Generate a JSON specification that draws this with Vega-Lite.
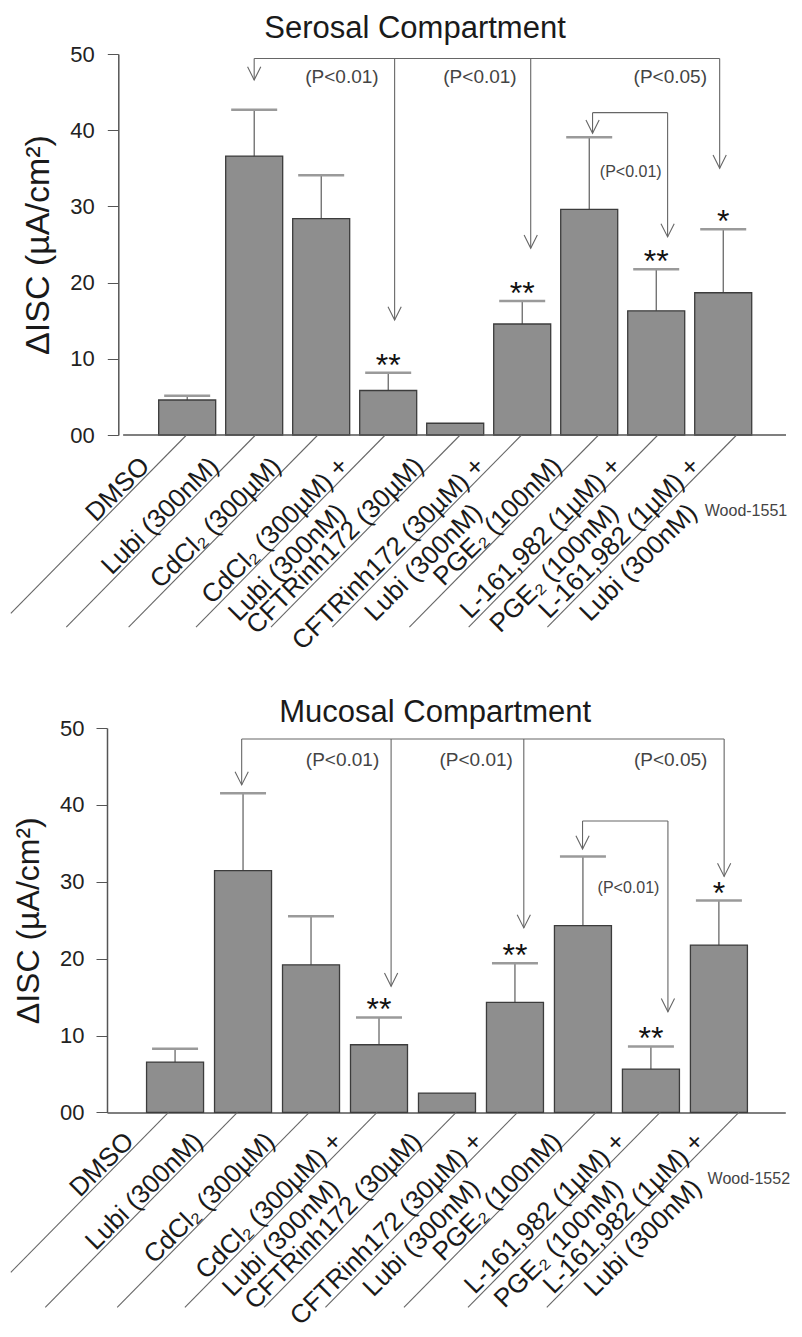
{
  "$schema": "https://vega.github.io/schema/vega-lite/v6.json",
  "background": "white",
  "padding": {"left": 10, "top": 12, "right": 0, "bottom": 0},
  "spacing": 42,
  "columns": 1,
  "align": "none",
  "config": {
    "font": "Liberation Sans",
    "view": {"stroke": null},
    "title": {"fontSize": 31, "fontWeight": "normal", "color": "#1a1a1a", "frame": "group", "anchor": "middle"}
  },
  "datasets": {
    "bars": [
      {"panel": "S", "idx": 1, "treatment": "DMSO", "mean": 4.59, "hi": 5.16, "sig": ""},
      {"panel": "S", "idx": 2, "treatment": "Lubi (300nM)", "mean": 36.6, "hi": 42.7, "sig": ""},
      {"panel": "S", "idx": 3, "treatment": "CdCl2 (300µM)", "mean": 28.4, "hi": 34.1, "sig": ""},
      {"panel": "S", "idx": 4, "treatment": "CdCl2 (300µM) + Lubi (300nM)", "mean": 5.84, "hi": 8.18, "sig": "**"},
      {"panel": "S", "idx": 5, "treatment": "CFTRinh172 (30µM)", "mean": 1.54, "hi": null, "sig": ""},
      {"panel": "S", "idx": 6, "treatment": "CFTRinh172 (30µM) + Lubi (300nM)", "mean": 14.57, "hi": 17.6, "sig": "**"},
      {"panel": "S", "idx": 7, "treatment": "PGE2 (100nM)", "mean": 29.6, "hi": 39.07, "sig": ""},
      {"panel": "S", "idx": 8, "treatment": "L-161,982 (1µM) + PGE2 (100nM)", "mean": 16.3, "hi": 21.75, "sig": "**"},
      {"panel": "S", "idx": 9, "treatment": "L-161,982 (1µM) + Lubi (300nM)", "mean": 18.67, "hi": 27.0, "sig": "*"},
      {"panel": "M", "idx": 1, "treatment": "DMSO", "mean": 6.55, "hi": 8.28, "sig": ""},
      {"panel": "M", "idx": 2, "treatment": "Lubi (300nM)", "mean": 31.45, "hi": 41.5, "sig": ""},
      {"panel": "M", "idx": 3, "treatment": "CdCl2 (300µM)", "mean": 19.2, "hi": 25.5, "sig": ""},
      {"panel": "M", "idx": 4, "treatment": "CdCl2 (300µM) + Lubi (300nM)", "mean": 8.8, "hi": 12.35, "sig": "**"},
      {"panel": "M", "idx": 5, "treatment": "CFTRinh172 (30µM)", "mean": 2.52, "hi": null, "sig": ""},
      {"panel": "M", "idx": 6, "treatment": "CFTRinh172 (30µM) + Lubi (300nM)", "mean": 14.3, "hi": 19.4, "sig": "**"},
      {"panel": "M", "idx": 7, "treatment": "PGE2 (100nM)", "mean": 24.3, "hi": 33.3, "sig": ""},
      {"panel": "M", "idx": 8, "treatment": "L-161,982 (1µM) + PGE2 (100nM)", "mean": 5.64, "hi": 8.58, "sig": "**"},
      {"panel": "M", "idx": 9, "treatment": "L-161,982 (1µM) + Lubi (300nM)", "mean": 21.77, "hi": 27.56, "sig": "*"}
    ],
    "segments": [
      {"panel": "S", "type": "bracket", "x": 2.0, "x2": 8.947, "y": 49.4, "y2": 49.4},
      {"panel": "S", "type": "stem", "x": 2.0, "x2": 2.0, "y": 49.4, "y2": 46.6},
      {"panel": "S", "type": "stem", "x": 4.096, "x2": 4.096, "y": 49.4, "y2": 15.1},
      {"panel": "S", "type": "stem", "x": 6.127, "x2": 6.127, "y": 49.4, "y2": 24.5},
      {"panel": "S", "type": "stem", "x": 8.947, "x2": 8.947, "y": 49.4, "y2": 35.0},
      {"panel": "S", "type": "bracket", "x": 7.05, "x2": 8.17, "y": 42.3, "y2": 42.3},
      {"panel": "S", "type": "stem", "x": 7.05, "x2": 7.05, "y": 42.3, "y2": 39.6},
      {"panel": "S", "type": "stem", "x": 8.17, "x2": 8.17, "y": 42.3, "y2": 26.0},
      {"panel": "S", "type": "leader", "x": 0.99, "x2": -1.632, "y": 0, "y2": -23.4, "line1": "DMSO", "line2": ""},
      {"panel": "S", "type": "leader", "x": 2.02, "x2": -0.804, "y": 0, "y2": -25.2, "line1": "Lubi (300nM)", "line2": ""},
      {"panel": "S", "type": "leader", "x": 2.95, "x2": 0.126, "y": 0, "y2": -25.2, "line1": "CdCl₂ (300µM)", "line2": ""},
      {"panel": "S", "type": "leader", "x": 3.956, "x2": 1.132, "y": 0, "y2": -25.2, "line1": "CdCl₂ (300µM) +", "line2": "Lubi (300nM)"},
      {"panel": "S", "type": "leader", "x": 5.074, "x2": 2.25, "y": 0, "y2": -25.2, "line1": "CFTRinh172 (30µM)", "line2": ""},
      {"panel": "S", "type": "leader", "x": 5.99, "x2": 3.166, "y": 0, "y2": -25.2, "line1": "CFTRinh172 (30µM) +", "line2": "Lubi (300nM)"},
      {"panel": "S", "type": "leader", "x": 7.14, "x2": 4.316, "y": 0, "y2": -25.2, "line1": "PGE₂ (100nM)", "line2": ""},
      {"panel": "S", "type": "leader", "x": 8.025, "x2": 5.201, "y": 0, "y2": -25.2, "line1": "L-161,982 (1µM) +", "line2": "PGE₂ (100nM)"},
      {"panel": "S", "type": "leader", "x": 9.2, "x2": 6.376, "y": 0, "y2": -25.2, "line1": "L-161,982 (1µM) +", "line2": "Lubi (300nM)"},
      {"panel": "M", "type": "bracket", "x": 1.98, "x2": 9.077, "y": 48.57, "y2": 48.57},
      {"panel": "M", "type": "stem", "x": 1.98, "x2": 1.98, "y": 48.57, "y2": 42.6},
      {"panel": "M", "type": "stem", "x": 4.178, "x2": 4.178, "y": 48.57, "y2": 16.4},
      {"panel": "M", "type": "stem", "x": 6.13, "x2": 6.13, "y": 48.57, "y2": 24.0},
      {"panel": "M", "type": "stem", "x": 9.077, "x2": 9.077, "y": 48.57, "y2": 30.7},
      {"panel": "M", "type": "bracket", "x": 6.994, "x2": 8.25, "y": 37.9, "y2": 37.9},
      {"panel": "M", "type": "stem", "x": 6.994, "x2": 6.994, "y": 37.9, "y2": 34.25},
      {"panel": "M", "type": "stem", "x": 8.25, "x2": 8.25, "y": 37.9, "y2": 13.1},
      {"panel": "M", "type": "leader", "x": 0.903, "x2": -1.416, "y": 0, "y2": -20.8, "line1": "DMSO", "line2": ""},
      {"panel": "M", "type": "leader", "x": 1.917, "x2": -0.909, "y": 0, "y2": -25.36, "line1": "Lubi (300nM)", "line2": ""},
      {"panel": "M", "type": "leader", "x": 2.975, "x2": 0.149, "y": 0, "y2": -25.36, "line1": "CdCl₂ (300µM)", "line2": ""},
      {"panel": "M", "type": "leader", "x": 3.971, "x2": 1.145, "y": 0, "y2": -25.36, "line1": "CdCl₂ (300µM) +", "line2": "Lubi (300nM)"},
      {"panel": "M", "type": "leader", "x": 5.135, "x2": 2.309, "y": 0, "y2": -25.36, "line1": "CFTRinh172 (30µM)", "line2": ""},
      {"panel": "M", "type": "leader", "x": 6.038, "x2": 3.212, "y": 0, "y2": -25.36, "line1": "CFTRinh172 (30µM) +", "line2": "Lubi (300nM)"},
      {"panel": "M", "type": "leader", "x": 7.193, "x2": 4.367, "y": 0, "y2": -25.36, "line1": "PGE₂ (100nM)", "line2": ""},
      {"panel": "M", "type": "leader", "x": 8.135, "x2": 5.309, "y": 0, "y2": -25.36, "line1": "L-161,982 (1µM) +", "line2": "PGE₂ (100nM)"},
      {"panel": "M", "type": "leader", "x": 9.294, "x2": 6.468, "y": 0, "y2": -25.36, "line1": "L-161,982 (1µM) +", "line2": "Lubi (300nM)"}
    ],
    "texts": [
      {"panel": "S", "kind": "p", "x": 3.31, "y": 47.0, "text": "(P<0.01)"},
      {"panel": "S", "kind": "p", "x": 5.37, "y": 47.0, "text": "(P<0.01)"},
      {"panel": "S", "kind": "p", "x": 8.21, "y": 47.0, "text": "(P<0.05)"},
      {"panel": "S", "kind": "pinner", "x": 7.62, "y": 34.55, "text": "(P<0.01)"},
      {"panel": "S", "kind": "id", "x": 9.34, "y": -10.0, "text": "Wood-1551"},
      {"panel": "M", "kind": "p", "x": 3.464, "y": 45.8, "text": "(P<0.01)"},
      {"panel": "M", "kind": "p", "x": 5.43, "y": 45.8, "text": "(P<0.01)"},
      {"panel": "M", "kind": "p", "x": 8.29, "y": 45.8, "text": "(P<0.05)"},
      {"panel": "M", "kind": "pinner", "x": 7.67, "y": 29.2, "text": "(P<0.01)"},
      {"panel": "M", "kind": "id", "x": 9.44, "y": -8.6, "text": "Wood-1552"}
    ]
  },
  "concat": [
    {
      "title": {"text": "Serosal Compartment", "dx": -34, "offset": -1.5},
      "width": 684,
      "height": 381,
      "layer": [
        {
          "data": {"name": "bars"},
          "transform": [{"filter": "datum.panel == 'S'"}],
          "mark": {"type": "bar", "orient": "vertical", "width": 57, "fill": "#8e8e8e", "stroke": "#3c3c3c", "strokeWidth": 1.3},
          "encoding": {
            "x": {"field": "idx", "type": "quantitative", "scale": {"domain": [-0.122, 9.937], "nice": false, "zero": false},
                  "axis": {"title": null, "labels": false, "ticks": false, "grid": false, "domain": false}},
            "y": {"field": "mean", "type": "quantitative", "scale": {"domain": [0, 50], "nice": false},
                  "axis": {"title": "ΔISC  (µA/cm²)", "values": [0, 10, 20, 30, 40, 50], "labelExpr": "datum.value == 0 ? '00' : datum.label",
                           "offset": -11.3, "grid": false, "tickSize": 11, "tickColor": "#555", "domainColor": "#555", "domainWidth": 1.5,
                           "labelFontSize": 22, "labelColor": "#222", "labelPadding": 13,
                           "titleFontSize": 34, "titleFontWeight": "normal", "titleColor": "#1a1a1a", "titlePadding": 14}}
          }
        },
        {
          "data": {"name": "bars"},
          "transform": [{"filter": "datum.panel == 'S' && datum.idx == 1"}],
          "mark": {"type": "rule", "color": "#555", "strokeWidth": 1.5},
          "encoding": {
            "x": {"datum": 0.044, "type": "quantitative", "scale": {"domain": [-0.122, 9.937], "nice": false, "zero": false}},
            "x2": {"datum": 9.937},
            "y": {"datum": 0, "type": "quantitative", "scale": {"domain": [0, 50], "nice": false}}
          }
        },
        {
          "data": {"name": "bars"},
          "transform": [{"filter": "datum.panel == 'S' && datum.hi != null"}],
          "mark": {"type": "rule", "color": "#3c3c3c", "strokeWidth": 1},
          "encoding": {
            "x": {"field": "idx", "type": "quantitative", "scale": {"domain": [-0.122, 9.937], "nice": false, "zero": false}},
            "y": {"field": "mean", "type": "quantitative", "scale": {"domain": [0, 50], "nice": false}},
            "y2": {"field": "hi"}
          }
        },
        {
          "data": {"name": "bars"},
          "transform": [{"filter": "datum.panel == 'S' && datum.hi != null"}],
          "mark": {"type": "tick", "orient": "horizontal", "size": 46, "thickness": 2.5, "color": "#9a9a9a", "opacity": 1},
          "encoding": {
            "x": {"field": "idx", "type": "quantitative", "scale": {"domain": [-0.122, 9.937], "nice": false, "zero": false}},
            "y": {"field": "hi", "type": "quantitative", "scale": {"domain": [0, 50], "nice": false}}
          }
        },
        {
          "data": {"name": "bars"},
          "transform": [{"filter": "datum.panel == 'S' && datum.sig != ''"}],
          "mark": {"type": "text", "fontSize": 32, "baseline": "alphabetic", "align": "center", "dy": 3, "color": "#111"},
          "encoding": {
            "x": {"field": "idx", "type": "quantitative", "scale": {"domain": [-0.122, 9.937], "nice": false, "zero": false}},
            "y": {"field": "hi", "type": "quantitative", "scale": {"domain": [0, 50], "nice": false}},
            "text": {"field": "sig"}
          }
        },
        {
          "data": {"name": "segments"},
          "transform": [{"filter": "datum.panel == 'S'"}],
          "mark": {"type": "rule", "color": "#666", "strokeWidth": 1.1},
          "encoding": {
            "x": {"field": "x", "type": "quantitative", "scale": {"domain": [-0.122, 9.937], "nice": false, "zero": false}},
            "x2": {"field": "x2"},
            "y": {"field": "y", "type": "quantitative", "scale": {"domain": [0, 50], "nice": false}},
            "y2": {"field": "y2"}
          }
        },
        {
          "data": {"name": "segments"},
          "transform": [{"filter": "datum.panel == 'S' && datum.type == 'stem'"}],
          "mark": {"type": "point", "shape": "M-0.5,-1L0,0L0.5,-1", "filled": false, "size": 700, "stroke": "#666", "strokeWidth": 1.1, "opacity": 1},
          "encoding": {
            "x": {"field": "x", "type": "quantitative", "scale": {"domain": [-0.122, 9.937], "nice": false, "zero": false}},
            "y": {"field": "y2", "type": "quantitative", "scale": {"domain": [0, 50], "nice": false}}
          }
        },
        {
          "data": {"name": "segments"},
          "transform": [{"filter": "datum.panel == 'S' && datum.type == 'leader'"}],
          "mark": {"type": "text", "angle": 315, "align": "right", "baseline": "alphabetic", "dx": -48, "dy": -2, "fontSize": 26, "color": "#1a1a1a"},
          "encoding": {
            "x": {"field": "x", "type": "quantitative", "scale": {"domain": [-0.122, 9.937], "nice": false, "zero": false}},
            "y": {"field": "y", "type": "quantitative", "scale": {"domain": [0, 50], "nice": false}},
            "text": {"field": "line1"}
          }
        },
        {
          "data": {"name": "segments"},
          "transform": [{"filter": "datum.panel == 'S' && datum.type == 'leader' && datum.line2 != ''"}],
          "mark": {"type": "text", "angle": 315, "align": "right", "baseline": "alphabetic", "dx": -83, "dy": 29, "fontSize": 26, "color": "#1a1a1a"},
          "encoding": {
            "x": {"field": "x", "type": "quantitative", "scale": {"domain": [-0.122, 9.937], "nice": false, "zero": false}},
            "y": {"field": "y", "type": "quantitative", "scale": {"domain": [0, 50], "nice": false}},
            "text": {"field": "line2"}
          }
        },
        {
          "data": {"name": "texts"},
          "transform": [{"filter": "datum.panel == 'S' && datum.kind == 'p'"}],
          "mark": {"type": "text", "fontSize": 19, "baseline": "middle", "align": "center", "color": "#444"},
          "encoding": {
            "x": {"field": "x", "type": "quantitative", "scale": {"domain": [-0.122, 9.937], "nice": false, "zero": false}},
            "y": {"field": "y", "type": "quantitative", "scale": {"domain": [0, 50], "nice": false}},
            "text": {"field": "text"}
          }
        },
        {
          "data": {"name": "texts"},
          "transform": [{"filter": "datum.panel == 'S' && datum.kind == 'pinner'"}],
          "mark": {"type": "text", "fontSize": 16, "baseline": "middle", "align": "center", "color": "#444"},
          "encoding": {
            "x": {"field": "x", "type": "quantitative", "scale": {"domain": [-0.122, 9.937], "nice": false, "zero": false}},
            "y": {"field": "y", "type": "quantitative", "scale": {"domain": [0, 50], "nice": false}},
            "text": {"field": "text"}
          }
        },
        {
          "data": {"name": "texts"},
          "transform": [{"filter": "datum.panel == 'S' && datum.kind == 'id'"}],
          "mark": {"type": "text", "fontSize": 16, "baseline": "middle", "align": "center", "color": "#444"},
          "encoding": {
            "x": {"field": "x", "type": "quantitative", "scale": {"domain": [-0.122, 9.937], "nice": false, "zero": false}},
            "y": {"field": "y", "type": "quantitative", "scale": {"domain": [0, 50], "nice": false}},
            "text": {"field": "text"}
          }
        }
      ]
    },
    {
      "title": {"text": "Mucosal Compartment", "dx": -11, "offset": -12},
      "width": 678.3,
      "height": 384.4,
      "layer": [
        {
          "data": {"name": "bars"},
          "transform": [{"filter": "datum.panel == 'M'"}],
          "mark": {"type": "bar", "orient": "vertical", "width": 57, "fill": "#8e8e8e", "stroke": "#3c3c3c", "strokeWidth": 1.3},
          "encoding": {
            "x": {"field": "idx", "type": "quantitative", "scale": {"domain": [0.0725, 9.903], "nice": false, "zero": false},
                  "axis": {"title": null, "labels": false, "ticks": false, "grid": false, "domainColor": "#555", "domainWidth": 1.5}},
            "y": {"field": "mean", "type": "quantitative", "scale": {"domain": [0, 50], "nice": false},
                  "axis": {"title": "ΔISC (µA/cm²)", "values": [0, 10, 20, 30, 40, 50], "labelExpr": "datum.value == 0 ? '00' : datum.label",
                           "grid": false, "tickSize": 11, "tickColor": "#555", "domainColor": "#555", "domainWidth": 1.5,
                           "labelFontSize": 22, "labelColor": "#222", "labelPadding": 12,
                           "titleFontSize": 32, "titleFontWeight": "normal", "titleColor": "#1a1a1a", "titlePadding": 14}}
          }
        },
        {
          "data": {"name": "bars"},
          "transform": [{"filter": "datum.panel == 'M' && datum.hi != null"}],
          "mark": {"type": "rule", "color": "#3c3c3c", "strokeWidth": 1},
          "encoding": {
            "x": {"field": "idx", "type": "quantitative", "scale": {"domain": [0.0725, 9.903], "nice": false, "zero": false}},
            "y": {"field": "mean", "type": "quantitative", "scale": {"domain": [0, 50], "nice": false}},
            "y2": {"field": "hi"}
          }
        },
        {
          "data": {"name": "bars"},
          "transform": [{"filter": "datum.panel == 'M' && datum.hi != null"}],
          "mark": {"type": "tick", "orient": "horizontal", "size": 46, "thickness": 2.5, "color": "#9a9a9a", "opacity": 1},
          "encoding": {
            "x": {"field": "idx", "type": "quantitative", "scale": {"domain": [0.0725, 9.903], "nice": false, "zero": false}},
            "y": {"field": "hi", "type": "quantitative", "scale": {"domain": [0, 50], "nice": false}}
          }
        },
        {
          "data": {"name": "bars"},
          "transform": [{"filter": "datum.panel == 'M' && datum.sig != ''"}],
          "mark": {"type": "text", "fontSize": 32, "baseline": "alphabetic", "align": "center", "dy": 3, "color": "#111"},
          "encoding": {
            "x": {"field": "idx", "type": "quantitative", "scale": {"domain": [0.0725, 9.903], "nice": false, "zero": false}},
            "y": {"field": "hi", "type": "quantitative", "scale": {"domain": [0, 50], "nice": false}},
            "text": {"field": "sig"}
          }
        },
        {
          "data": {"name": "segments"},
          "transform": [{"filter": "datum.panel == 'M'"}],
          "mark": {"type": "rule", "color": "#666", "strokeWidth": 1.1},
          "encoding": {
            "x": {"field": "x", "type": "quantitative", "scale": {"domain": [0.0725, 9.903], "nice": false, "zero": false}},
            "x2": {"field": "x2"},
            "y": {"field": "y", "type": "quantitative", "scale": {"domain": [0, 50], "nice": false}},
            "y2": {"field": "y2"}
          }
        },
        {
          "data": {"name": "segments"},
          "transform": [{"filter": "datum.panel == 'M' && datum.type == 'stem'"}],
          "mark": {"type": "point", "shape": "M-0.5,-1L0,0L0.5,-1", "filled": false, "size": 700, "stroke": "#666", "strokeWidth": 1.1, "opacity": 1},
          "encoding": {
            "x": {"field": "x", "type": "quantitative", "scale": {"domain": [0.0725, 9.903], "nice": false, "zero": false}},
            "y": {"field": "y2", "type": "quantitative", "scale": {"domain": [0, 50], "nice": false}}
          }
        },
        {
          "data": {"name": "segments"},
          "transform": [{"filter": "datum.panel == 'M' && datum.type == 'leader'"}],
          "mark": {"type": "text", "angle": 315, "align": "right", "baseline": "alphabetic", "dx": -45, "dy": -2, "fontSize": 26, "color": "#1a1a1a"},
          "encoding": {
            "x": {"field": "x", "type": "quantitative", "scale": {"domain": [0.0725, 9.903], "nice": false, "zero": false}},
            "y": {"field": "y", "type": "quantitative", "scale": {"domain": [0, 50], "nice": false}},
            "text": {"field": "line1"}
          }
        },
        {
          "data": {"name": "segments"},
          "transform": [{"filter": "datum.panel == 'M' && datum.type == 'leader' && datum.line2 != ''"}],
          "mark": {"type": "text", "angle": 315, "align": "right", "baseline": "alphabetic", "dx": -80, "dy": 29, "fontSize": 26, "color": "#1a1a1a"},
          "encoding": {
            "x": {"field": "x", "type": "quantitative", "scale": {"domain": [0.0725, 9.903], "nice": false, "zero": false}},
            "y": {"field": "y", "type": "quantitative", "scale": {"domain": [0, 50], "nice": false}},
            "text": {"field": "line2"}
          }
        },
        {
          "data": {"name": "texts"},
          "transform": [{"filter": "datum.panel == 'M' && datum.kind == 'p'"}],
          "mark": {"type": "text", "fontSize": 19, "baseline": "middle", "align": "center", "color": "#444"},
          "encoding": {
            "x": {"field": "x", "type": "quantitative", "scale": {"domain": [0.0725, 9.903], "nice": false, "zero": false}},
            "y": {"field": "y", "type": "quantitative", "scale": {"domain": [0, 50], "nice": false}},
            "text": {"field": "text"}
          }
        },
        {
          "data": {"name": "texts"},
          "transform": [{"filter": "datum.panel == 'M' && datum.kind == 'pinner'"}],
          "mark": {"type": "text", "fontSize": 16, "baseline": "middle", "align": "center", "color": "#444"},
          "encoding": {
            "x": {"field": "x", "type": "quantitative", "scale": {"domain": [0.0725, 9.903], "nice": false, "zero": false}},
            "y": {"field": "y", "type": "quantitative", "scale": {"domain": [0, 50], "nice": false}},
            "text": {"field": "text"}
          }
        },
        {
          "data": {"name": "texts"},
          "transform": [{"filter": "datum.panel == 'M' && datum.kind == 'id'"}],
          "mark": {"type": "text", "fontSize": 16, "baseline": "middle", "align": "center", "color": "#444"},
          "encoding": {
            "x": {"field": "x", "type": "quantitative", "scale": {"domain": [0.0725, 9.903], "nice": false, "zero": false}},
            "y": {"field": "y", "type": "quantitative", "scale": {"domain": [0, 50], "nice": false}},
            "text": {"field": "text"}
          }
        }
      ]
    }
  ]
}
